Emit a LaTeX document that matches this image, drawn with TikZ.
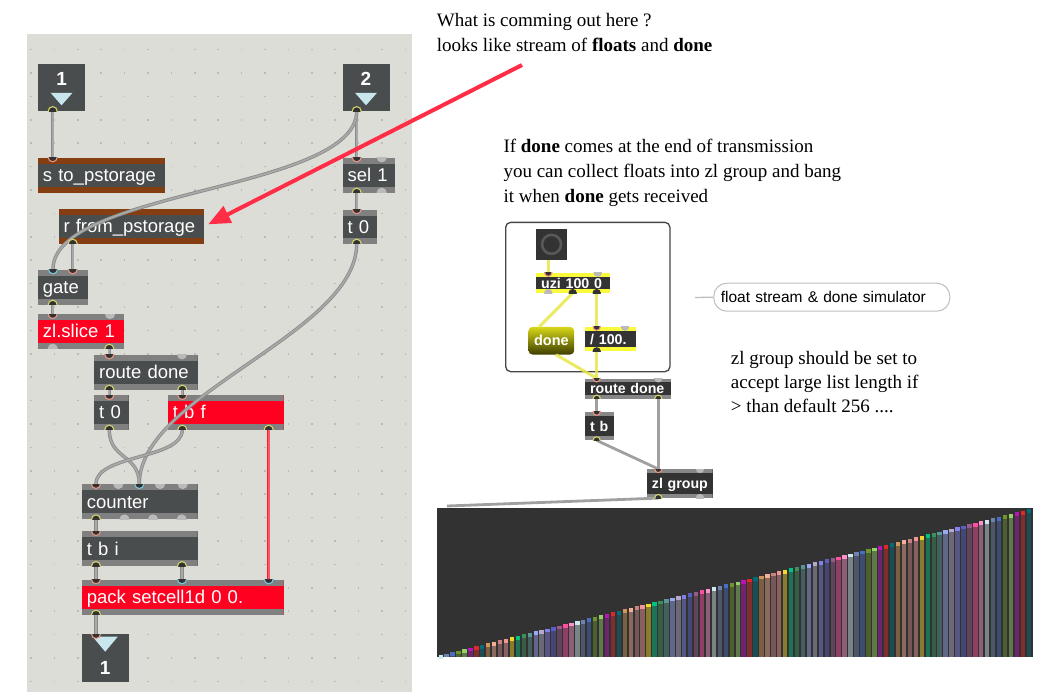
\documentclass[tikz,border=0pt]{standalone}
\usepackage{fontspec}
\setmainfont{Liberation Serif}
\newfontfamily\mxsans{Liberation Sans}
\usetikzlibrary{arrows.meta}
\definecolor{panel}{RGB}{221,221,215}
\definecolor{dotc}{RGB}{188,188,182}
\definecolor{mxbody}{RGB}{73,77,77}
\definecolor{mxstripe}{RGB}{128,128,128}
\definecolor{mxbrown}{RGB}{132,62,18}
\definecolor{mxred}{RGB}{255,0,32}
\definecolor{cordedge}{RGB}{138,138,138}
\definecolor{cordmid}{RGB}{168,168,168}
\definecolor{redcordedge}{RGB}{238,30,55}
\definecolor{redcordmid}{RGB}{255,85,100}
\definecolor{pinsalmon}{RGB}{235,150,130}
\definecolor{pincyan}{RGB}{120,200,222}
\definecolor{pinyellow}{RGB}{212,212,110}
\definecolor{pinoff}{RGB}{186,186,186}
\definecolor{pindark}{RGB}{50,50,50}
\definecolor{tricyan}{RGB}{200,230,236}
\definecolor{arrowred}{RGB}{255,45,70}
\definecolor{mfbody}{RGB}{51,51,51}
\definecolor{mfstripe}{RGB}{135,135,135}
\definecolor{mfyellow}{RGB}{250,250,60}
\definecolor{yellowcord}{RGB}{232,232,70}
\definecolor{graycord}{RGB}{160,160,160}
\definecolor{chartbg}{RGB}{50,50,50}
\definecolor{framec}{RGB}{70,70,70}
\definecolor{bubblec}{RGB}{190,190,190}
\definecolor{bangring}{RGB}{88,88,88}
% bar palette
\definecolor{k1}{RGB}{205,232,238}
\definecolor{k2}{RGB}{110,130,175}
\definecolor{k3}{RGB}{70,110,195}
\definecolor{k4}{RGB}{110,150,40}
\definecolor{k5}{RGB}{150,210,100}
\definecolor{k6}{RGB}{185,20,185}
\definecolor{k7}{RGB}{225,40,40}
\definecolor{k8}{RGB}{0,110,120}
\definecolor{k9}{RGB}{210,150,90}
\definecolor{k10}{RGB}{245,175,150}
\definecolor{k11}{RGB}{200,130,130}
\definecolor{k12}{RGB}{245,150,150}
\definecolor{k13}{RGB}{245,215,40}
\definecolor{k14}{RGB}{0,195,130}
\definecolor{k15}{RGB}{60,145,90}
\definecolor{k16}{RGB}{90,150,150}
\definecolor{k17}{RGB}{150,170,245}
\definecolor{k18}{RGB}{180,170,200}
\definecolor{k19}{RGB}{130,130,235}
\definecolor{k20}{RGB}{90,95,195}
\definecolor{k21}{RGB}{150,90,140}
\definecolor{k22}{RGB}{255,80,160}
\definecolor{k23}{RGB}{255,145,205}
\tikzset{
  mx/.style={anchor=north west, fill=mxbody, inner xsep=5pt, inner ysep=0pt, align=left, text=white,
    font=\mxsans\fontsize{18.5}{20}\selectfont, text height=13.2pt, text depth=0pt},
  mf/.style={anchor=north west, fill=mfbody, inner xsep=5pt, inner ysep=0pt, align=left, text=white,
    font=\mxsans\bfseries\fontsize{14.2}{16}\selectfont, text height=10.2pt, text depth=0pt},
  stripes/.style 2 args={path picture={
    \fill[#1] (path picture bounding box.north west) rectangle ([yshift=-#2]path picture bounding box.north east);
    \fill[#1] ([yshift=#2]path picture bounding box.south west) rectangle (path picture bounding box.south east);}},
  iobox/.style={anchor=north west, fill=mxbody, inner sep=0pt},
  ionum/.style={text=white, font=\mxsans\bfseries\fontsize{19}{20}\selectfont, inner sep=0pt},
  cord/.style={line width=0.8pt, draw=cordedge, double=cordmid, double distance=1.8pt},
  redcord/.style={line width=0.8pt, draw=redcordedge, double=redcordmid, double distance=1.8pt},
  ycord/.style={line width=3pt, draw=yellowcord, draw opacity=0.85},
  gcord/.style={line width=2.8pt, draw=graycord},
  serifc/.style={anchor=base west, inner sep=0pt, font=\fontsize{19}{25}\selectfont},
}
\newcommand\mxo[7]{\pgfmathsetmacro\mxw{#4-#2-10}\pgfmathsetmacro\mxh{#5-#3}%
  \node[#6,minimum height=\mxh pt,text width=\mxw pt] (#1) at (#2,#3) {\mbox{#7}};}
% port coordinate: name, node, anchor, dx
\newcommand\pc[4]{\coordinate (#1) at ([xshift=#4pt]#2.#3);}
% pin: box, coord, fill, ring, radius
\newcommand\pin[5]{\begin{scope}\clip (#1.north west) rectangle (#1.south east);
  \filldraw[fill=#3,draw=#4,line width=1.1pt] (#2) circle[radius=#5pt];\end{scope}}
\begin{document}
\begin{tikzpicture}[x=1pt,y=-1pt]
\useasboundingbox (0,0) rectangle (1042,694);
\fill[white] (0,0) rectangle (1042,694);
\fill[panel] (27,34) rectangle (412,692);
\foreach \gx in {0,...,16}{\foreach \gy in {0,...,27}{
  \fill[dotc] ({30.1+\gx*23.4},{48.7+\gy*23.4}) rectangle +(1.6,1.6);}}

% ---------- left patch boxes ----------
\node[iobox, minimum width=47.3pt, minimum height=47.4pt] (inA) at (37.7,63.3) {};
\node[ionum] (inAnum) at ([yshift=-16pt]inA.north) {1};
\fill[tricyan] ([xshift=-11pt,yshift=-29.5pt]inA.north) -- ([xshift=11pt,yshift=-29.5pt]inA.north) -- ([yshift=-42pt]inA.north) -- cycle;
\node[iobox, minimum width=47pt, minimum height=47.4pt] (inB) at (342.3,63.3) {};
\node[ionum] (inBnum) at ([yshift=-16pt]inB.north) {2};
\fill[tricyan] ([xshift=-11pt,yshift=-29.5pt]inB.north) -- ([xshift=11pt,yshift=-29.5pt]inB.north) -- ([yshift=-42pt]inB.north) -- cycle;

\mxo{sto}{37.7}{157.3}{164.3}{192.3}{mx,stripes={mxbrown}{6pt}}{s to\_pstorage}
\mxo{rfrom}{58.3}{209}{203.3}{243.3}{mx,stripes={mxbrown}{6pt}}{r from\_pstorage}
\mxo{sel}{342.3}{157.3}{395}{192.3}{mx,stripes={mxstripe}{6pt}}{sel 1}
\mxo{tza}{342.3}{209.3}{376.7}{243.3}{mx,stripes={mxstripe}{6pt}}{t 0}
\mxo{gate}{37.7}{269.3}{87.7}{304.3}{mx,stripes={mxstripe}{6pt}}{gate}
\mxo{zls}{37.7}{314}{123.7}{348.3}{mx,fill=mxred,stripes={mxstripe}{6pt}}{zl.slice 1}
\mxo{rda}{94}{354.3}{197.3}{389.3}{mx,stripes={mxstripe}{6pt}}{route done}
\mxo{tzb}{94}{395}{128.3}{429.3}{mx,stripes={mxstripe}{6pt}}{t 0}
\mxo{tbf}{167.7}{395}{283.3}{429.3}{mx,fill=mxred,stripes={mxstripe}{6pt}}{t b f}
\mxo{cnt}{81.7}{484}{197.3}{519}{mx,stripes={mxstripe}{6pt}}{counter}
\mxo{tbi}{81.7}{531}{197.3}{565.7}{mx,stripes={mxstripe}{6pt}}{t b i}
\mxo{pack}{81.7}{579.3}{283.3}{614.3}{mx,fill=mxred,stripes={mxstripe}{6pt}}{pack setcell1d 0 0.}
\node[iobox, minimum width=46.6pt, minimum height=47.7pt] (outA) at (81.7,634) {};
\fill[tricyan] ([xshift=-12.5pt,yshift=-2.7pt]outA.north) -- ([xshift=12.5pt,yshift=-2.7pt]outA.north) -- ([yshift=-17.7pt]outA.north) -- cycle;
\node[ionum] (outAnum) at ([yshift=-34pt]outA.north) {1};

% ports (left)
\pc{inA-o}{inA}{south west}{15}
\pc{inB-o}{inB}{south west}{14.4}
\pc{sto-i}{sto}{north west}{15}
\pc{rfrom-o}{rfrom}{south west}{14.4}
\pc{gate-i1}{gate}{north west}{15.3}
\pc{gate-i2}{gate}{north west}{35}
\pc{gate-o}{gate}{south west}{15}
\pc{zls-i1}{zls}{north west}{15}
\pc{zls-i2}{zls}{north west}{72.3}
\pc{zls-o1}{zls}{south west}{15}
\pc{zls-o2}{zls}{south west}{71.6}
\pc{sel-i1}{sel}{north west}{14.4}
\pc{sel-i2}{sel}{north west}{39.4}
\pc{sel-o1}{sel}{south west}{14.4}
\pc{sel-o2}{sel}{south west}{39.4}
\pc{tza-i}{tza}{north west}{14.4}
\pc{tza-o}{tza}{south west}{14.4}
\pc{rda-i1}{rda}{north west}{15.3}
\pc{rda-i2}{rda}{north west}{88}
\pc{rda-o1}{rda}{south west}{15.3}
\pc{rda-o2}{rda}{south west}{88.3}
\pc{tzb-i}{tzb}{north west}{15.3}
\pc{tzb-o}{tzb}{south west}{15.3}
\pc{tbf-i}{tbf}{north west}{14.6}
\pc{tbf-o1}{tbf}{south west}{14.6}
\pc{tbf-o2}{tbf}{south west}{101}
\pc{cnt-i1}{cnt}{north west}{14.3}
\pc{cnt-i2}{cnt}{north west}{36.6}
\pc{cnt-i3}{cnt}{north west}{57.6}
\pc{cnt-i4}{cnt}{north west}{78.3}
\pc{cnt-i5}{cnt}{north west}{101}
\pc{cnt-o1}{cnt}{south west}{14.3}
\pc{cnt-o2}{cnt}{south west}{42.8}
\pc{cnt-o3}{cnt}{south west}{71.3}
\pc{cnt-o4}{cnt}{south west}{100}
\pc{tbi-i}{tbi}{north west}{14.3}
\pc{tbi-o1}{tbi}{south west}{14.3}
\pc{tbi-o2}{tbi}{south west}{100.3}
\pc{pack-i1}{pack}{north west}{14.3}
\pc{pack-i2}{pack}{north west}{100.3}
\pc{pack-i3}{pack}{north west}{187}
\pc{pack-o}{pack}{south west}{14.3}
\pc{outA-i}{outA}{north west}{14.3}

% cords (left)
\draw[cord] (inA-o) -- (sto-i);
\draw[cord] (inB-o) -- (sel-i1);
\draw[cord] (inB-o) .. controls +(0,80) and +(0,-80) .. (gate-i1);
\draw[cord] (rfrom-o) -- (gate-i2);
\draw[cord] (gate-o) -- (zls-i1);
\draw[cord] (sel-o1) -- (tza-i);
\draw[cord] (tza-o) .. controls +(0,90) and +(0,-90) .. (cnt-i3);
\draw[cord] (zls-o2) -- (rda-i1);
\draw[cord] (rda-o1) -- (tzb-i);
\draw[cord] (rda-o2) -- (tbf-i);
\draw[cord] (tzb-o) .. controls +(0,30) and +(0,-30) .. (cnt-i3);
\draw[cord] (tbf-o1) .. controls +(0,30) and +(0,-30) .. (cnt-i1);
\draw[redcord] (tbf-o2) -- (pack-i3);
\draw[cord] (cnt-o1) -- (tbi-i);
\draw[cord] (tbi-o1) -- (pack-i1);
\draw[cord] (tbi-o2) -- (pack-i2);
\draw[cord] (pack-o) -- (outA-i);

% pins (left)
\pin{inA}{inA-o}{pindark}{pinyellow}{4.5}
\pin{inB}{inB-o}{pindark}{pinyellow}{4.5}
\pin{sto}{sto-i}{pindark}{pinsalmon}{4.5}
\pin{rfrom}{rfrom-o}{pindark}{pinyellow}{4.5}
\pin{gate}{gate-i1}{pindark}{pincyan}{4.5}
\pin{gate}{gate-i2}{pindark}{pinsalmon}{4.5}
\pin{gate}{gate-o}{pindark}{pinyellow}{4.5}
\pin{zls}{zls-i1}{pindark}{pinsalmon}{4.5}
\pin{zls}{zls-i2}{pinoff}{pinoff}{4.5}
\pin{zls}{zls-o1}{pinoff}{pinoff}{4.5}
\pin{zls}{zls-o2}{pindark}{pinyellow}{4.5}
\pin{sel}{sel-i1}{pindark}{pinsalmon}{4.5}
\pin{sel}{sel-i2}{pinoff}{pinoff}{4.5}
\pin{sel}{sel-o1}{pindark}{pinyellow}{4.5}
\pin{sel}{sel-o2}{pinoff}{pinoff}{4.5}
\pin{tza}{tza-i}{pindark}{pinsalmon}{4.5}
\pin{tza}{tza-o}{pindark}{pinyellow}{4.5}
\pin{rda}{rda-i1}{pindark}{pinsalmon}{4.5}
\pin{rda}{rda-i2}{pinoff}{pinoff}{4.5}
\pin{rda}{rda-o1}{pindark}{pinyellow}{4.5}
\pin{rda}{rda-o2}{pindark}{pinyellow}{4.5}
\pin{tzb}{tzb-i}{pindark}{pinsalmon}{4.5}
\pin{tzb}{tzb-o}{pindark}{pinyellow}{4.5}
\pin{tbf}{tbf-i}{pindark}{pinsalmon}{4.5}
\pin{tbf}{tbf-o1}{pindark}{pinyellow}{4.5}
\pin{tbf}{tbf-o2}{pindark}{pinyellow}{4.5}
\pin{cnt}{cnt-i1}{pindark}{pinsalmon}{4.5}
\pin{cnt}{cnt-i2}{pinoff}{pinoff}{4.5}
\pin{cnt}{cnt-i3}{pindark}{pincyan}{4.5}
\pin{cnt}{cnt-i4}{pinoff}{pinoff}{4.5}
\pin{cnt}{cnt-i5}{pinoff}{pinoff}{4.5}
\pin{cnt}{cnt-o1}{pindark}{pinyellow}{4.5}
\pin{cnt}{cnt-o2}{pinoff}{pinoff}{4.5}
\pin{cnt}{cnt-o3}{pinoff}{pinoff}{4.5}
\pin{cnt}{cnt-o4}{pinoff}{pinoff}{4.5}
\pin{tbi}{tbi-i}{pindark}{pinsalmon}{4.5}
\pin{tbi}{tbi-o1}{pindark}{pinyellow}{4.5}
\pin{tbi}{tbi-o2}{pindark}{pinyellow}{4.5}
\pin{pack}{pack-i1}{pindark}{pinsalmon}{4.5}
\pin{pack}{pack-i2}{pindark}{pincyan}{4.5}
\pin{pack}{pack-i3}{pindark}{pincyan}{4.5}
\pin{pack}{pack-o}{pindark}{pinyellow}{4.5}
\pin{outA}{outA-i}{pindark}{pinsalmon}{4.5}

% ---------- right patch ----------
\node[draw=framec, line width=1.3pt, fill=white, rounded corners=5pt, anchor=north west, inner sep=0pt,
  minimum width=164.3pt, minimum height=149.3pt] (simframe) at (505,221.7) {};
\node[fill=mfbody, anchor=north west, inner sep=0pt, minimum width=30.7pt, minimum height=30.3pt] (bang) at (536,229) {};
\draw[bangring, line width=2.6pt] (bang.center) circle[radius=9.5pt];
\mxo{uzi}{536}{272.7}{610}{292.7}{mf,stripes={mfyellow}{3.8pt}}{uzi 100 0}
\node[anchor=north west, inner sep=0pt, rounded corners=4pt, top color={rgb,255:red,215;green,215;blue,25},
  bottom color={rgb,255:red,62;green,62;blue,0}, minimum width=45.7pt, minimum height=27.6pt, text=white,
  font=\mxsans\bfseries\fontsize{14.5}{16}\selectfont] (done) at (528.3,326.7) {done};
\mxo{div}{585}{326.7}{636}{351}{mf,stripes={mfyellow}{3.8pt}}{/ 100.}
\mxo{rdb}{585}{378.3}{671}{398.3}{mf,stripes={mfstripe}{3.8pt}}{route done}
\mxo{tb}{585}{411.7}{614}{440}{mf,stripes={mfstripe}{3.8pt}}{t b}
\mxo{zlg}{646.7}{469}{712.3}{497.7}{mf,stripes={mfstripe}{3.8pt}}{zl group}

\pc{bang-o}{bang}{south west}{12.3}
\pc{uzi-i1}{uzi}{north west}{12.3}
\pc{uzi-i2}{uzi}{north west}{61.7}
\pc{uzi-o1}{uzi}{south west}{12.3}
\pc{uzi-o2}{uzi}{south west}{36.7}
\pc{uzi-o3}{uzi}{south west}{60.7}
\pc{done-i}{done}{north west}{11}
\pc{done-o}{done}{south west}{27.7}
\pc{div-i1}{div}{north west}{11.7}
\pc{div-i2}{div}{north west}{40}
\pc{div-o}{div}{south west}{11.7}
\pc{rdb-i1}{rdb}{north west}{11.7}
\pc{rdb-i2}{rdb}{north west}{73.3}
\pc{rdb-o1}{rdb}{south west}{11.7}
\pc{rdb-o2}{rdb}{south west}{73.3}
\pc{tb-i}{tb}{north west}{11.7}
\pc{tb-o}{tb}{south west}{11.7}
\pc{zlg-i1}{zlg}{north west}{11.6}
\pc{zlg-i2}{zlg}{north west}{53.3}
\pc{zlg-o1}{zlg}{south west}{11.6}
\pc{zlg-o2}{zlg}{south west}{53.3}

% chart
\node[fill=chartbg, anchor=north west, inner sep=0pt, minimum width=595.3pt, minimum height=148.7pt] (chart) at (437,508) {};
\foreach \i in {0,...,99}{
  \pgfmathtruncatemacro\ci{mod(\i,23)+1}
  \pgfmathsetmacro\bx{438.5+\i*5.94}
  \pgfmathsetmacro\bt{655-\i*1.47}
  \colorlet{barcap}{k\ci}
  \fill[barcap!45!chartbg] (\bx,656.7) rectangle (\bx+4.4,\bt);
  \fill[barcap] (\bx,\bt) rectangle (\bx+4.4,\bt+3.8);
}
\coordinate (chart-in) at ([xshift=10pt,yshift=2pt]chart.north west);

% cords (right)
\draw[ycord] (bang-o) -- (uzi-i1);
\draw[ycord] (uzi-o2) -- (done-i);
\draw[ycord] (uzi-o3) -- (div-i1);
\draw[ycord] (done-o) -- (rdb-i1);
\draw[ycord] (div-o) -- (rdb-i1);
\draw[gcord] (rdb-o1) -- (tb-i);
\draw[gcord] (rdb-o2) -- (zlg-i1);
\draw[gcord] (tb-o) -- (zlg-i1);
\draw[gcord] (zlg-o1) -- (chart-in);

\pin{uzi}{uzi-i1}{pindark}{pinsalmon}{3.6}
\pin{uzi}{uzi-i2}{pinoff}{pinoff}{3.6}
\pin{uzi}{uzi-o1}{pinoff}{pinoff}{3.6}
\pin{uzi}{uzi-o2}{pindark}{pindark}{3.6}
\pin{uzi}{uzi-o3}{pindark}{pindark}{3.6}
\pin{div}{div-i1}{pindark}{pinsalmon}{3.6}
\pin{div}{div-i2}{pinoff}{pinoff}{3.6}
\pin{div}{div-o}{pindark}{pindark}{3.6}
\pin{rdb}{rdb-i1}{pindark}{pinsalmon}{3.6}
\pin{rdb}{rdb-i2}{pinoff}{pinoff}{3.6}
\pin{rdb}{rdb-o1}{pindark}{pinyellow}{3.6}
\pin{rdb}{rdb-o2}{pindark}{pinyellow}{3.6}
\pin{tb}{tb-i}{pindark}{pinsalmon}{3.6}
\pin{tb}{tb-o}{pindark}{pinyellow}{3.6}
\pin{zlg}{zlg-i1}{pindark}{pinsalmon}{3.6}
\pin{zlg}{zlg-i2}{pinoff}{pinoff}{3.6}
\pin{zlg}{zlg-o1}{pindark}{pinyellow}{3.6}
\pin{zlg}{zlg-o2}{pinoff}{pinoff}{3.6}

% comment bubble
\node[draw=bubblec, line width=1pt, fill=white, rounded corners=13pt, anchor=north west, inner xsep=7pt, inner ysep=0pt,
  minimum height=28pt, text width=222pt, align=left, font=\mxsans\fontsize{15.5}{17}\selectfont,
  text height=11pt, text depth=0pt] (bubble) at (713.3,282.7) {float stream \& done simulator};
\coordinate (bubtail) at (695,297.5);
\draw[bubblec, line width=1.3pt] (bubtail) -- (bubble.west);

% serif comments
\node[serifc] (c1a) at (436.7,26.7) {What is comming out here ?};
\node[serifc] (c1b) at (436.7,51.7) {looks like stream of \textbf{floats} and \textbf{done}};
\node[serifc] (c2a) at (503.3,152.3) {If \textbf{done} comes at the end of transmission};
\node[serifc] (c2b) at (503.3,177.3) {you can collect floats into zl group and bang};
\node[serifc] (c2c) at (503.3,202.3) {it when \textbf{done} gets received};
\node[serifc] (c3a) at (730.7,364) {zl group should be set to};
\node[serifc] (c3b) at (730.7,388.3) {accept large list length if};
\node[serifc] (c3c) at (730.7,412) {> than default 256 ....};

% red arrow
\coordinate (arrstart) at (522,65);
\draw[arrowred, line width=4pt, -{Triangle[length=22pt,width=18pt]}] (arrstart) -- ([xshift=4.5pt,yshift=2pt]rfrom.east);
\end{tikzpicture}
\end{document}
